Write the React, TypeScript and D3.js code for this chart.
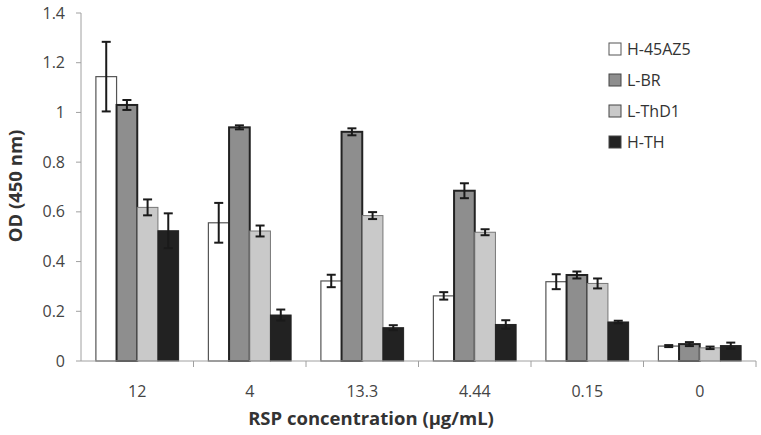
import * as d3 from 'd3';
import React from 'react';

const categories = ['12', '4', '13.3', '4.44', '0.15', '0'];
const seriesNames = ['H-45AZ5', 'L-BR', 'L-ThD1', 'H-TH'];
const h45az5 = [1.144, 0.556, 0.322, 0.262, 0.319, 0.06];
const h45az5Err = [0.14, 0.08, 0.025, 0.015, 0.03, 0.004];
const lbr = [1.03, 0.94, 0.922, 0.685, 0.346, 0.068];
const lbrErr = [0.02, 0.008, 0.014, 0.03, 0.014, 0.008];
const lthd1 = [0.618, 0.523, 0.585, 0.518, 0.312, 0.053];
const lthd1Err = [0.032, 0.022, 0.014, 0.012, 0.02, 0.005];
const hth = [0.524, 0.185, 0.134, 0.147, 0.157, 0.062];
const hthErr = [0.07, 0.022, 0.01, 0.017, 0.005, 0.012];
const yTicks = [0, 0.2, 0.4, 0.6, 0.8, 1, 1.2, 1.4];

const fills = ['#ffffff', '#8e8e8e', '#c9c9c9', '#222222'];
const strokes = ['#555555', '#222222', '#777777', '#222222'];
const strokeWidths = [1.2, 2, 1, 1];

export default function App() {
  const width = 761;
  const height = 435;
  const margin = { top: 13, right: 5, bottom: 74, left: 81 };

  const values = [h45az5, lbr, lthd1, hth];
  const errs = [h45az5Err, lbrErr, lthd1Err, hthErr];

  // one band per concentration, four bars inside
  const x = d3.scaleBand().domain(categories).range([margin.left, 756]);
  const xs = d3.scaleBand().domain(seriesNames).range([0, x.bandwidth()]).paddingInner(0).paddingOuter(0.72);
  const y = d3.scaleLinear().domain([0, 1.4]).range([height - margin.bottom, margin.top]);

  const font = "'Open Sans', 'Liberation Sans', sans-serif";
  const y0 = y(0);

  return (
    <svg width={width} height={height} style={{ position: 'absolute', left: 0, top: 0, background: '#fff' }} fontFamily={font}>
      <line x1={margin.left} x2={margin.left} y1={y(1.4)} y2={y0} stroke="#a0a0a0" />
      {yTicks.map(t => (
        <g key={t}>
          <line x1={margin.left - 5} x2={margin.left} y1={y(t)} y2={y(t)} stroke="#a0a0a0" />
          <text x={65} y={y(t)} dy="0.35em" textAnchor="end" fontSize={16} fill="#444">{d3.format('')(t)}</text>
        </g>
      ))}
      {categories.map((c, i) => (
        <g key={c}>
          {seriesNames.map((s, j) => {
            const bx = x(c)! + xs(s)!;
            const v = values[j][i];
            return (
              <rect key={s} x={bx} y={y(v)} width={xs.bandwidth()} height={y0 - y(v)}
                fill={fills[j]} stroke={strokes[j]} strokeWidth={strokeWidths[j]} />
            );
          })}
          {seriesNames.map((s, j) => {
            const cx = x(c)! + xs(s)! + xs.bandwidth() / 2;
            const v = values[j][i];
            const e = errs[j][i];
            return (
              <g key={s} stroke="#1a1a1a" strokeWidth={2}>
                <line x1={cx} x2={cx} y1={y(v + e)} y2={y(v - e)} />
                <line x1={cx - 4.5} x2={cx + 4.5} y1={y(v + e)} y2={y(v + e)} />
                <line x1={cx - 4.5} x2={cx + 4.5} y1={y(v - e)} y2={y(v - e)} />
              </g>
            );
          })}
        </g>
      ))}
      <line x1={margin.left} x2={756} y1={y0} y2={y0} stroke="#a0a0a0" />
      {categories.map(c => (
        <g key={c}>
          <line x1={x(c)! + x.bandwidth()} x2={x(c)! + x.bandwidth()} y1={y0} y2={y0 + 6} stroke="#a0a0a0" />
          <text x={x(c)! + x.bandwidth() / 2} y={397} textAnchor="middle" fontSize={16} fill="#444">{c}</text>
        </g>
      ))}
      <text x={371} y={425} textAnchor="middle" fontSize={18.5} fontWeight="bold" fill="#333">RSP concentration (µg/mL)</text>
      <text transform={`translate(22,186) rotate(-90)`} textAnchor="middle" fontSize={18.5} fontWeight="bold" fill="#333">OD (450 nm)</text>
      {seriesNames.map((s, j) => (
        <g key={s} transform={`translate(609,${43 + j * 31})`}>
          <rect x={0} y={0} width={12} height={12} fill={fills[j]} stroke={j === 0 ? '#555' : '#444'} strokeWidth={1} />
          <text x={18} y={6} dy="0.36em" fontSize={16} fill="#333">{s}</text>
        </g>
      ))}
    </svg>
  );
}
